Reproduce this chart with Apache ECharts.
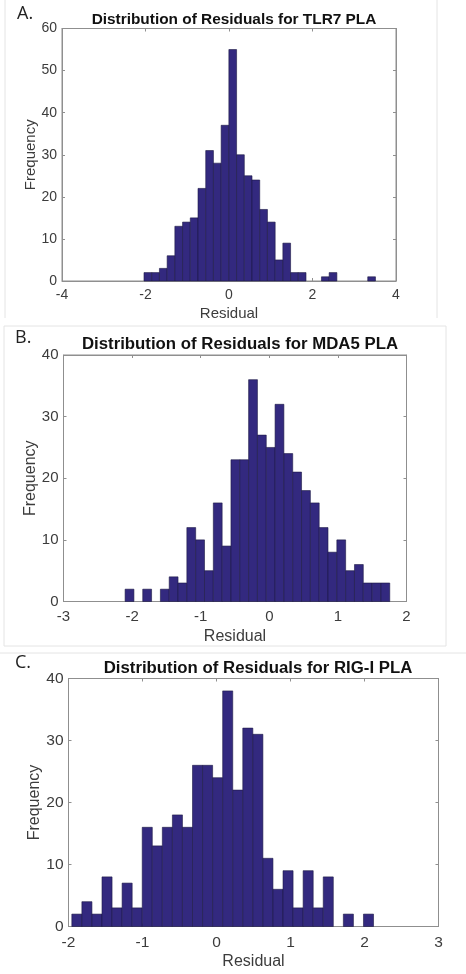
<!DOCTYPE html>
<html>
<head>
<meta charset="utf-8">
<script src="https://cdn.jsdelivr.net/npm/echarts@6/dist/echarts.min.js"></script>
<style>
html,body{margin:0;padding:0;background:#fff;}
#chart{width:466px;height:974px;}
</style>
</head>
<body>
<div id="chart"></div>
<script>
// ---- Data ----
const titles = ['Distribution of Residuals for TLR7 PLA', 'Distribution of Residuals for MDA5 PLA', 'Distribution of Residuals for RIG-I PLA'];
const panelLabels = ['A.', 'B.', 'C.'];
const xAxisName = 'Residual';
const yAxisName = 'Frequency';

// Panel A (TLR7)
const tlr7BinStart = -2.036;
const tlr7BinWidth = 0.1848;
const tlr7Counts = [2, 2, 3, 6, 13, 14, 15, 22, 31, 28, 37, 55, 30, 25, 24, 17, 14, 5, 9, 2, 2, 0, 0, 1, 2, 0, 0, 0, 0, 1];
const tlr7XTicks = [-4, 4, 2];   // min, max, interval
const tlr7YTicks = [0, 60, 10];

// Panel B (MDA5)
const mda5BinStart = -2.102;
const mda5BinWidth = 0.1286;
const mda5Counts = [2, 0, 2, 0, 2, 4, 3, 12, 10, 5, 16, 9, 23, 23, 36, 27, 25, 32, 24, 21, 18, 16, 12, 8, 10, 5, 6, 3, 3, 3];
const mda5XTicks = [-3, 2, 1];
const mda5YTicks = [0, 40, 10];

// Panel C (RIG-I)
const rigiBinStart = -1.955;
const rigiBinWidth = 0.1359;
const rigiCounts = [2, 4, 2, 8, 3, 7, 3, 16, 13, 16, 18, 16, 26, 26, 24, 38, 22, 32, 31, 11, 6, 9, 3, 9, 3, 8, 0, 2, 0, 2];
const rigiXTicks = [-2, 3, 1];
const rigiYTicks = [0, 40, 10];

// ---- Build ----
function bins(start, width, counts) {
  return counts.map((c, i) => [start + i * width, start + (i + 1) * width, c]);
}
const panels = [
  { data: bins(tlr7BinStart, tlr7BinWidth, tlr7Counts), x: tlr7XTicks, y: tlr7YTicks,
    grid: { left: 62, top: 28.5, width: 334, height: 252.5 },
    fs: { title: 15.4, tick: 14, name: 15 }, titleX: 229, titleY: 7, labelX: 17, labelY: 5,
    xMargin: 7, xNameGap: 25, yMargin: 5, yNameGap: 24 },
  { data: bins(mda5BinStart, mda5BinWidth, mda5Counts), x: mda5XTicks, y: mda5YTicks,
    grid: { left: 63.5, top: 355, width: 343, height: 246.5 },
    fs: { title: 16.8, tick: 15, name: 16 }, titleX: 235, titleY: 331, labelX: 15, labelY: 329,
    xMargin: 8, xNameGap: 27, yMargin: 5, yNameGap: 25 },
  { data: bins(rigiBinStart, rigiBinWidth, rigiCounts), x: rigiXTicks, y: rigiYTicks,
    grid: { left: 68.5, top: 678.5, width: 370, height: 248 },
    fs: { title: 16.8, tick: 15.5, name: 16 }, titleX: 253, titleY: 655, labelX: 15, labelY: 654,
    xMargin: 8, xNameGap: 27, yMargin: 5, yNameGap: 26 }
];

const axisColor = '#8f8f8f';
const labelColor = '#3c3c3c';
const barColor = '#33297f';
const font = 'Liberation Sans, Arial, sans-serif';

const option = {
  backgroundColor: '#fff',
  animation: false,
  title: [], grid: [], xAxis: [], yAxis: [], series: [],
  graphic: []
};

panels.forEach((p, i) => {
  option.title.push({
    text: titles[i], left: p.titleX, top: p.titleY, textAlign: 'center',
    textStyle: { fontFamily: font, fontWeight: 'bold', fontSize: p.fs.title, color: '#111' }
  });
  option.graphic.push({
    type: 'text', left: p.labelX, top: p.labelY,
    style: { text: panelLabels[i], fontFamily: 'Open Sans, sans-serif', fontSize: 18, fill: '#222' }
  });
  option.grid.push(Object.assign({ show: true, borderColor: axisColor, borderWidth: 1, backgroundColor: '#fff' }, p.grid));
  const common = {
    type: 'value', gridIndex: i, splitLine: { show: false },
    axisLine: { show: true, onZero: false, lineStyle: { color: axisColor, width: 1 } },
    axisTick: { show: true, inside: true, length: 3, lineStyle: { color: axisColor } }
  };
  option.xAxis.push(Object.assign({}, common, {
    position: 'bottom', min: p.x[0], max: p.x[1], interval: p.x[2],
    name: xAxisName, nameLocation: 'middle', nameGap: p.xNameGap, nameMoveOverlap: false,
    nameTextStyle: { fontFamily: font, fontSize: p.fs.name, color: labelColor },
    axisLabel: { margin: p.xMargin, fontFamily: font, fontSize: p.fs.tick, color: labelColor }
  }));
  option.xAxis.push(Object.assign({}, common, {
    position: 'top', min: p.x[0], max: p.x[1], interval: p.x[2],
    axisLabel: { show: false }
  }));
  option.yAxis.push(Object.assign({}, common, {
    position: 'left', min: p.y[0], max: p.y[1], interval: p.y[2],
    name: yAxisName, nameLocation: 'middle', nameGap: p.yNameGap, nameMoveOverlap: false,
    nameTextStyle: { fontFamily: font, fontSize: p.fs.name, color: labelColor },
    axisLabel: { margin: p.yMargin, fontFamily: font, fontSize: p.fs.tick, color: labelColor }
  }));
  option.yAxis.push(Object.assign({}, common, {
    position: 'right', min: p.y[0], max: p.y[1], interval: p.y[2],
    axisLabel: { show: false }
  }));
  option.series.push({
    type: 'custom',
    xAxisIndex: i * 2, yAxisIndex: i * 2,
    data: p.data,
    encode: { x: [0, 1], y: 2 },
    renderItem: function (params, api) {
      const c = api.value(2);
      if (!c) return null;
      const p0 = api.coord([api.value(0), c]);
      const p1 = api.coord([api.value(1), 0]);
      return {
        type: 'rect',
        shape: { x: p0[0], y: p0[1], width: p1[0] - p0[0], height: p1[1] - p0[1] },
        style: { fill: barColor, stroke: '#1d1a45', lineWidth: 0.6 }
      };
    },
    z: 1
  });
});

const frameColor = '#e4e4e4';
[
  [5, 0, 5, 318], [437, 0, 437, 318],
  [4, 326, 446, 326], [4, 326, 4, 646], [446, 326, 446, 646], [4, 646, 446, 646],
  [0, 653, 466, 653]
].forEach(l => option.graphic.push({
  type: 'line', shape: { x1: l[0], y1: l[1], x2: l[2], y2: l[3] },
  style: { stroke: frameColor, lineWidth: 1 }, silent: true, z: -1
}));

const chart = echarts.init(document.getElementById('chart'), null, { renderer: 'canvas' });
chart.setOption(option);
</script>
</body>
</html>
